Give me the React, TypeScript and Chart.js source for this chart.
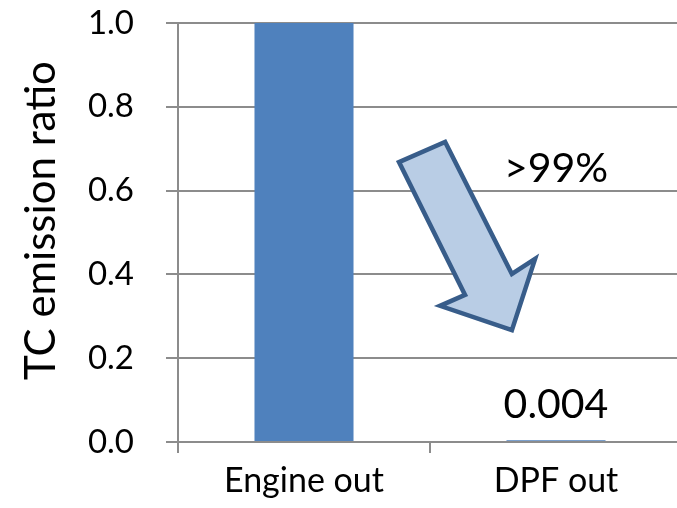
import React, { useEffect, useRef } from 'react';
import { Chart, registerables } from 'chart.js';

Chart.register(...registerables);

// ---- data ----
const categories: string[] = ['Engine out', 'DPF out'];
const tcEmissionRatio: number[] = [1.0, 0.004];
const valueLabels: string[] = ['', '0.004'];
const yTickValues: number[] = [0, 0.2, 0.4, 0.6, 0.8, 1.0];
const yAxisTitle = 'TC emission ratio';
const reductionText = '>99%';

// ---- styling ----
const FONT = 'Lato, "Open Sans", sans-serif';
const GRID = '#8c8c8c';
const BAR = '#4F81BD';

// arrow annotation outline, in (category index, value) units
const ARROW_SHAPE: [number, number][] = [
  [0.377, 0.668],
  [0.56, 0.716],
  [0.825, 0.401],
  [0.917, 0.437],
  [0.825, 0.267],
  [0.54, 0.325],
  [0.639, 0.351],
];
const REDUCTION_POS: [number, number] = [1, 0.62];

const annotationPlugin = {
  id: 'annotations',
  afterDatasetsDraw(chart: any) {
    const { ctx, scales, chartArea } = chart;
    const xs = scales.x;
    const ys = scales.y;
    const x0 = xs.getPixelForValue(0);
    const x1 = xs.getPixelForValue(1);
    const px = (v: number) => x0 + v * (x1 - x0);

    // arrow
    ctx.save();
    ctx.beginPath();
    ARROW_SHAPE.forEach(([vx, vy], i) => {
      const X = px(vx);
      const Y = ys.getPixelForValue(vy);
      if (i === 0) ctx.moveTo(X, Y);
      else ctx.lineTo(X, Y);
    });
    ctx.closePath();
    ctx.fillStyle = '#B9CDE5';
    ctx.fill();
    ctx.lineWidth = 4.5;
    ctx.lineJoin = 'miter';
    ctx.strokeStyle = '#385D8A';
    ctx.stroke();
    ctx.restore();

    // text
    ctx.save();
    ctx.fillStyle = '#000';
    ctx.font = `41px ${FONT}`;
    ctx.textAlign = 'center';
    ctx.textBaseline = 'alphabetic';
    ctx.fillText(reductionText, px(REDUCTION_POS[0]), ys.getPixelForValue(REDUCTION_POS[1]));
    const meta = chart.getDatasetMeta(0);
    meta.data.forEach((bar: any, i: number) => {
      const t = valueLabels[i];
      if (!t) return;
      ctx.fillText(t, bar.x, bar.y - 22);
    });
    ctx.restore();

    // y axis title
    ctx.save();
    ctx.fillStyle = '#000';
    ctx.font = `42px ${FONT}`;
    ctx.textAlign = 'center';
    ctx.textBaseline = 'alphabetic';
    const cy = (chartArea.top + chartArea.bottom) / 2 - 12;
    ctx.translate(55, cy);
    ctx.rotate(-Math.PI / 2);
    ctx.fillText(yAxisTitle, 0, 0);
    ctx.restore();
  },
};

export default function App() {
  const ref = useRef<HTMLCanvasElement | null>(null);
  useEffect(() => {
    if (!ref.current) return;
    const chart = new Chart(ref.current, {
      type: 'bar',
      data: {
        labels: categories,
        datasets: [
          {
            data: tcEmissionRatio,
            backgroundColor: BAR,
            borderWidth: 0,
            barPercentage: 0.393,
            categoryPercentage: 1,
          },
        ],
      },
      options: {
        responsive: false,
        animation: false,
        devicePixelRatio: 1,
        layout: { padding: { left: 0, right: 8, top: 23, bottom: 0 } },
        plugins: { legend: { display: false }, tooltip: { enabled: false } },
        scales: {
          x: {
            offset: true,
            grid: {
              offset: true,
              drawOnChartArea: false,
              drawTicks: true,
              tickLength: 11,
              color: GRID,
              lineWidth: 2,
            },
            border: { display: true, color: GRID, width: 2 },
            ticks: {
              color: '#000',
              font: { family: FONT, size: 34 },
              padding: 8,
              maxRotation: 0,
            },
            afterFit: (s: any) => {
              s.height = 66;
              s.paddingLeft = 0;
              s.paddingRight = 0;
            },
          },
          y: {
            min: yTickValues[0],
            max: yTickValues[yTickValues.length - 1],
            afterBuildTicks: (s: any) => {
              s.ticks = yTickValues.map((v) => ({ value: v }));
            },
            grid: {
              color: GRID,
              lineWidth: 2,
              tickLength: 12,
              drawTicks: true,
            },
            border: { display: true, color: GRID, width: 2 },
            ticks: {
              color: '#000',
              font: { family: FONT, size: 33 },
              padding: 32,
              callback: (v: any) => Number(v).toFixed(1),
            },
            title: { display: false },
            afterFit: (s: any) => {
              s.width = 178;
              s.paddingTop = 0;
              s.paddingBottom = 0;
            },
          },
        },
      },
      plugins: [annotationPlugin],
    });
    return () => chart.destroy();
  }, []);

  return (
    <div
      style={{
        position: 'absolute',
        left: 0,
        top: 0,
        width: 677,
        height: 508,
        overflow: 'hidden',
        background: '#fff',
      }}
    >
      <canvas ref={ref} width={690} height={508} style={{ display: 'block', width: 690, height: 508 }} />
    </div>
  );
}
